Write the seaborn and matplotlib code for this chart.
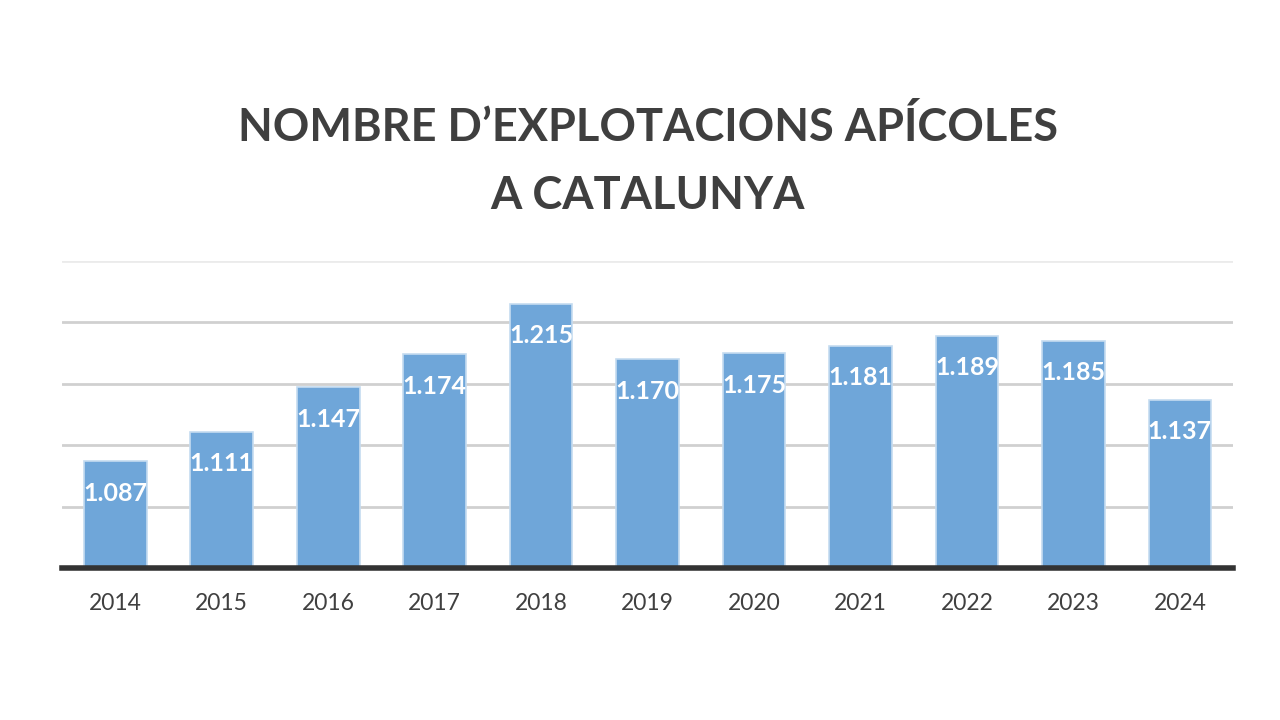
import numpy as np
import pandas as pd
import matplotlib
matplotlib.use("Agg")
import matplotlib.pyplot as plt
import seaborn as sns

# Data
years = ["2014", "2015", "2016", "2017", "2018", "2019", "2020", "2021", "2022", "2023", "2024"]
explotacions = [1087, 1111, 1147, 1174, 1215, 1170, 1175, 1181, 1189, 1185, 1137]

df = pd.DataFrame({"any": years, "explotacions": explotacions})

sns.set_theme(style="white")
plt.rcParams['font.family'] = ['Lato', 'DejaVu Sans']

fig = plt.figure(figsize=(12.8, 7.2), dpi=100)
ax = fig.add_axes([0.0484, 0.2111, 0.915, 0.4264])

sns.barplot(data=df, x="any", y="explotacions", color="#6FA6D9", saturation=1,
            width=0.59, edgecolor="#C5DCF0", linewidth=1.2, ax=ax, zorder=3)

ax.set_ylim(1000, 1250)
ax.set_xlim(-0.5, len(years) - 0.5)
ax.set_yticks([1050, 1100, 1150, 1200])
ax.yaxis.grid(True, color="#D0D0D0", linewidth=2)
ax.axhline(1250, color="#EBEBEB", linewidth=2, zorder=0)
ax.set_axisbelow(True)
ax.tick_params(axis="y", left=False, labelleft=False)
ax.tick_params(axis="x", bottom=False, labelsize=16.5, labelcolor="#404040", pad=12)
ax.set_xlabel("")
ax.set_ylabel("")

for s in ["top", "left", "right"]:
    ax.spines[s].set_visible(False)
ax.spines["bottom"].set_color("#333333")
ax.spines["bottom"].set_linewidth(4)
ax.spines["bottom"].set_zorder(5)

# value labels inside bars, near the top
for i, v in enumerate(explotacions):
    label = f"{v:,}".replace(",", ".")
    ax.annotate(label, (i, v), xytext=(0, -23), textcoords="offset points",
                ha="center", va="center", color="white", fontsize=18,
                fontweight="bold", zorder=6)

fig.text(0.506, 0.776, "NOMBRE D\u2019EXPLOTACIONS APÍCOLES\nA CATALUNYA",
         ha="center", va="center", fontsize=32.5, fontweight="bold",
         color="#3F3F3F", linespacing=1.75)

fig.savefig("out.png", dpi=100, facecolor="white")
